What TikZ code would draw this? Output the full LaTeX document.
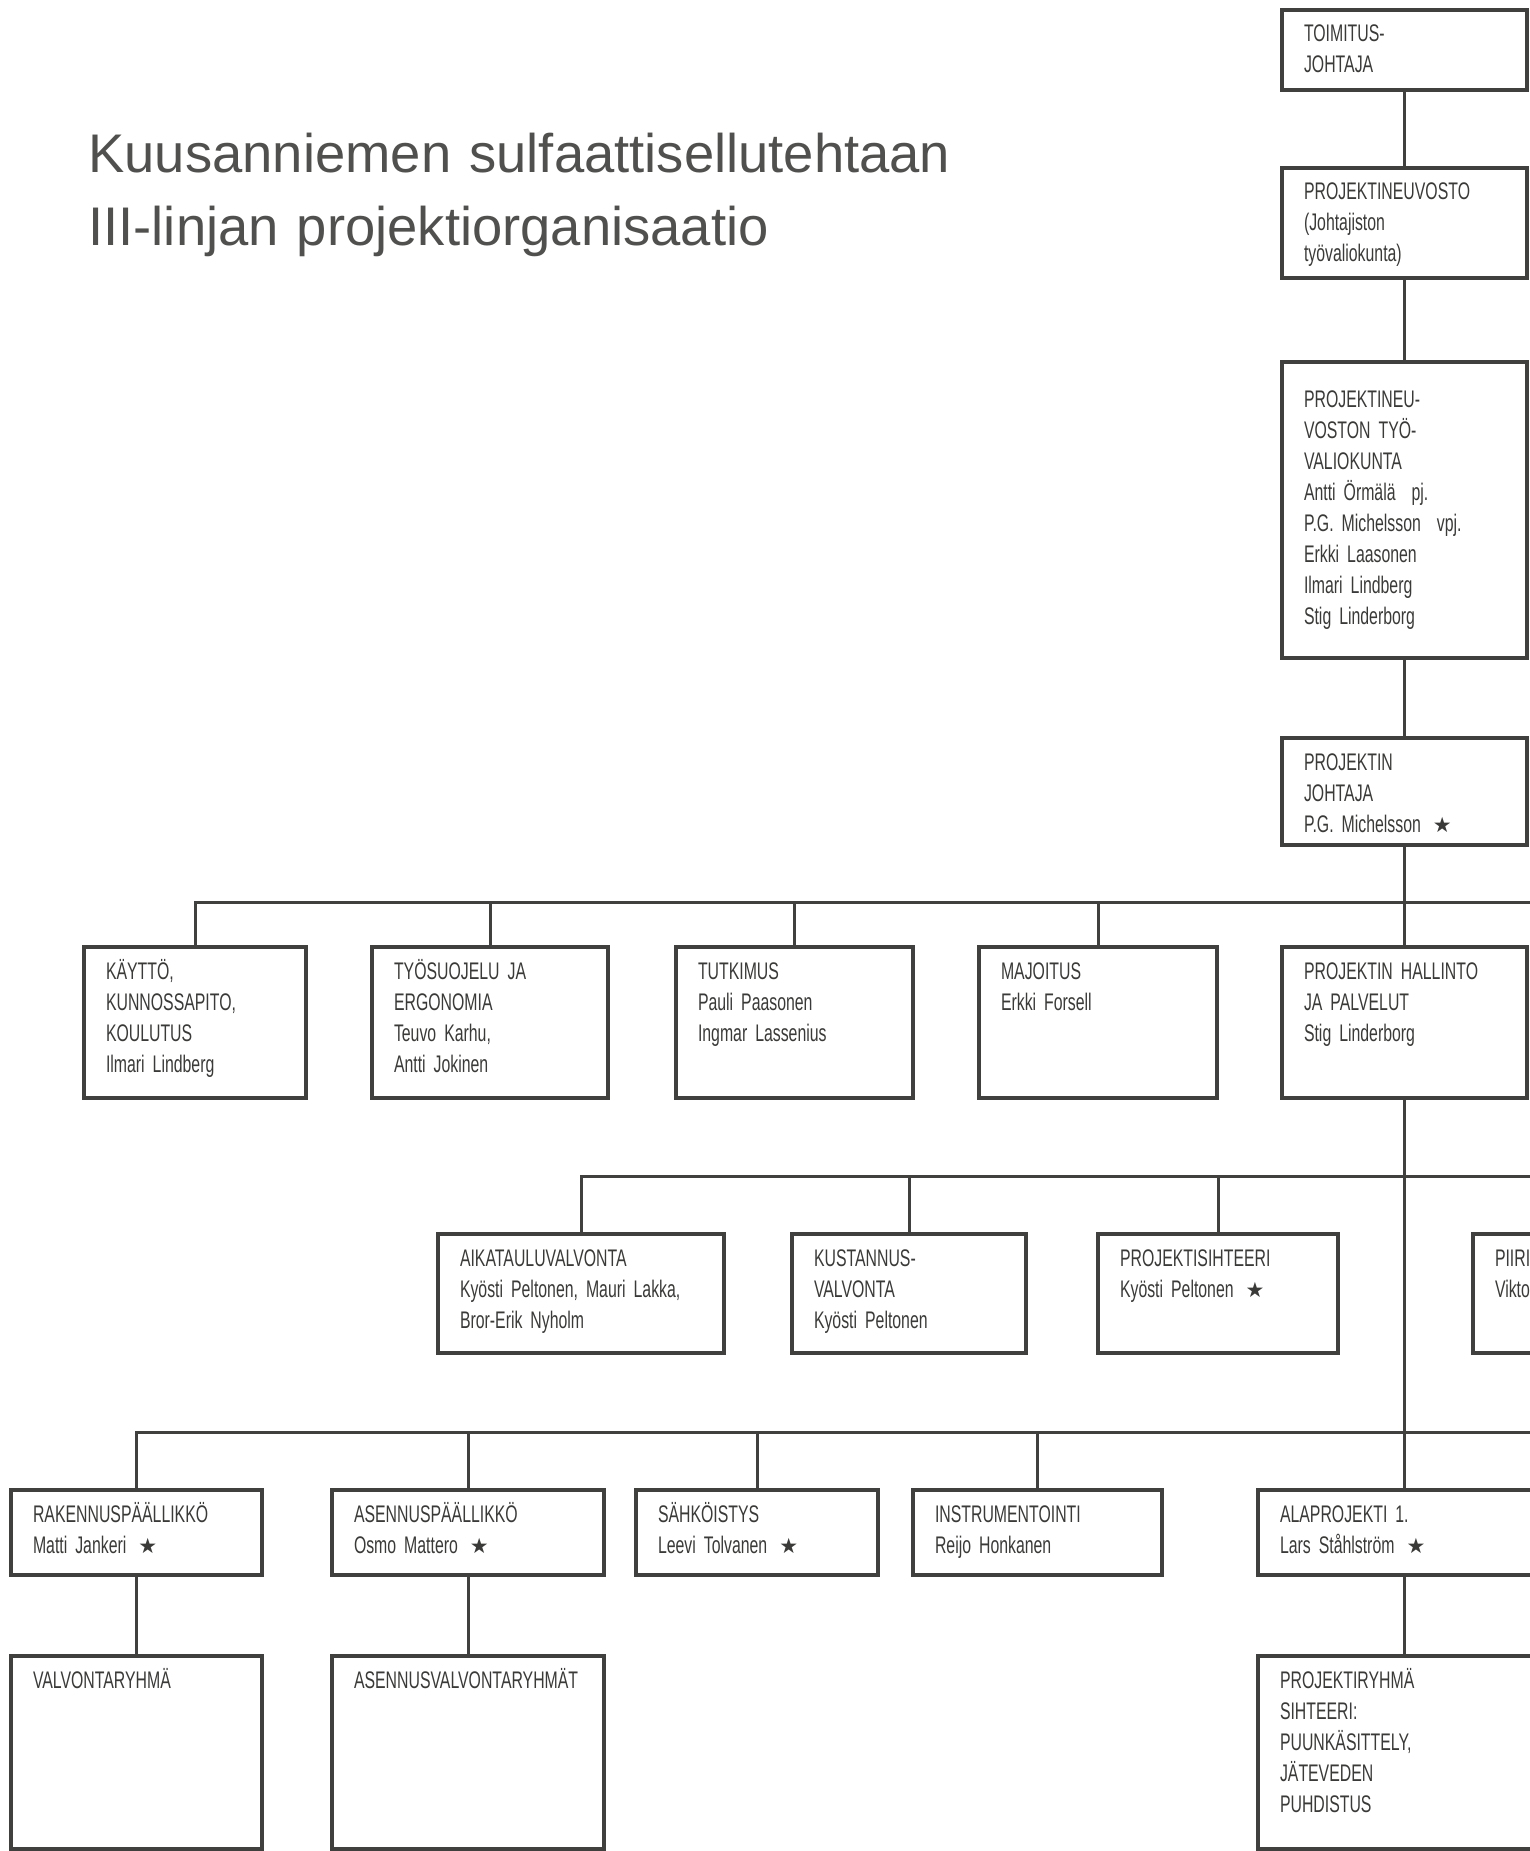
\documentclass[tikz,border=0pt]{standalone}
\usepackage{fontspec}
\usepackage{tikz}
\setmainfont{Liberation Sans}
\newfontfamily\boxfamily[FakeStretch=0.66,WordSpace=1.8]{Liberation Sans}
\newfontfamily\starfamily{DejaVu Sans}
\definecolor{ink}{RGB}{58,58,56}
\definecolor{rule}{RGB}{64,64,62}
\definecolor{headgray}{RGB}{80,80,78}
\newcommand{\boxfont}{\boxfamily\fontsize{12}{15.5}\selectfont}
\newcommand{\tahti}{\hspace{6pt}{\starfamily\fontsize{10.5}{10}\selectfont ★}}

\begin{document}
\begin{tikzpicture}[x=0.5pt, y=-0.5pt,
unit/.style 2 args={draw=rule, line width=1.6pt, outer sep=0pt, anchor=north west, align=left, inner xsep=11pt, inner ysep=0pt, text height=16pt, text width=#1, text depth=#2, font=\boxfont, text=ink},
link/.style={draw=rule, line width=1.5pt}]
\useasboundingbox (0,0) rectangle (1530,1851);
\clip (0,0) rectangle (1530,1851);

\node [anchor=base west, inner sep=0pt, text width=500pt, align=left, font=\fontsize{27.2}{36.5}\selectfont, text=headgray] (otsikko) at (88,173) {Kuusanniemen sulfaattisellutehtaan\\III-linjan projektiorganisaatio};

% oikea sarake
\node [unit={100.5pt}{24pt}] (toimitus) at (1282,10) {TOIMITUS-\\JOHTAJA};
\node [unit={100.5pt}{39pt}] (neuvosto) at (1282,168) {PROJEKTINEUVOSTO\\(Johtajiston\\työvaliokunta)};
\node [unit={100.5pt}{125.5pt}, text height=22.5pt] (valiokunta) at (1282,362) {PROJEKTINEU-\\VOSTON TYÖ-\\VALIOKUNTA\\Antti Örmälä\hspace{8pt}pj.\\P.G. Michelsson\hspace{8pt}vpj.\\Erkki Laasonen\\Ilmari Lindberg\\Stig Linderborg};
\node [unit={100.5pt}{37.5pt}] (johtaja) at (1282,738) {PROJEKTIN\\JOHTAJA\\P.G. Michelsson\tahti};

% taso 1
\node [unit={89pt}{59.5pt}] (kaytto) at (84,947) {KÄYTTÖ,\\KUNNOSSAPITO,\\KOULUTUS\\Ilmari Lindberg};
\node [unit={96pt}{59.5pt}] (tyosuojelu) at (372,947) {TYÖSUOJELU JA\\ERGONOMIA\\Teuvo Karhu,\\Antti Jokinen};
\node [unit={96.5pt}{59.5pt}] (tutkimus) at (676,947) {TUTKIMUS\\Pauli Paasonen\\Ingmar Lassenius};
\node [unit={97pt}{59.5pt}] (majoitus) at (979,947) {MAJOITUS\\Erkki Forsell};
\node [unit={100.5pt}{59.5pt}] (hallinto) at (1282,947) {PROJEKTIN HALLINTO\\JA PALVELUT\\Stig Linderborg};

% taso 2
\node [unit={121pt}{43.5pt}] (aikataulu) at (438,1234) {AIKATAULUVALVONTA\\Kyösti Peltonen, Mauri Lakka,\\Bror-Erik Nyholm};
\node [unit={95pt}{43.5pt}] (kustannus) at (792,1234) {KUSTANNUS-\\VALVONTA\\Kyösti Peltonen};
\node [unit={98pt}{43.5pt}] (sihteeri) at (1098,1234) {PROJEKTISIHTEERI\\Kyösti Peltonen\tahti};
\node [unit={98pt}{43.5pt}] (piirustus) at (1473,1234) {PIIRI\\Vikto};

% taso 3
\node [unit={103.5pt}{26.5pt}] (rakennus) at (11,1490) {RAKENNUSPÄÄLLIKKÖ\\Matti Jankeri\tahti};
\node [unit={114pt}{26.5pt}] (asennus) at (332,1490) {ASENNUSPÄÄLLIKKÖ\\Osmo Mattero\tahti};
\node [unit={99pt}{26.5pt}] (sahkoistys) at (636,1490) {SÄHKÖISTYS\\Leevi Tolvanen\tahti};
\node [unit={102.5pt}{26.5pt}] (instrumentointi) at (913,1490) {INSTRUMENTOINTI\\Reijo Honkanen};
\node [unit={124pt}{26.5pt}] (alaprojekti) at (1258,1490) {ALAPROJEKTI 1.\\Lars Ståhlström\tahti};

\node [unit={103.5pt}{80.5pt}] (valvonta) at (11,1656) {VALVONTARYHMÄ};
\node [unit={114pt}{80.5pt}] (asennusvalvonta) at (332,1656) {ASENNUSVALVONTARYHMÄT};
\node [unit={124pt}{80.5pt}] (projektiryhma) at (1258,1656) {PROJEKTIRYHMÄ\\SIHTEERI:\\PUUNKÄSITTELY,\\JÄTEVEDEN\\PUHDISTUS};

\coordinate (taso1) at (1530,902);
\coordinate (taso2) at (1530,1176);
\coordinate (taso3) at (1530,1432);

\draw [link] (toimitus) -- (neuvosto);
\draw [link] (neuvosto) -- (valiokunta);
\draw [link] (valiokunta) -- (johtaja);
\draw [link] (johtaja) -- (hallinto);
\draw [link] (hallinto.south) -- (hallinto.south |- alaprojekti.north);

\draw [link] (kaytto.north) |- (taso1);
\foreach \n in {tyosuojelu,tutkimus,majoitus}
  \draw [link] (\n.north) -- (\n.north |- taso1);

\draw [link] (aikataulu.north) |- (taso2);
\foreach \n in {kustannus,sihteeri,piirustus}
  \draw [link] (\n.north) -- (\n.north |- taso2);

\draw [link] (rakennus.north) |- (taso3);
\foreach \n in {asennus,sahkoistys,instrumentointi}
  \draw [link] (\n.north) -- (\n.north |- taso3);

\draw [link] (rakennus) -- (valvonta);
\draw [link] (asennus) -- (asennusvalvonta);
\draw [link] (alaprojekti.south) -- (alaprojekti.south |- projektiryhma.north);
\end{tikzpicture}
\end{document}
